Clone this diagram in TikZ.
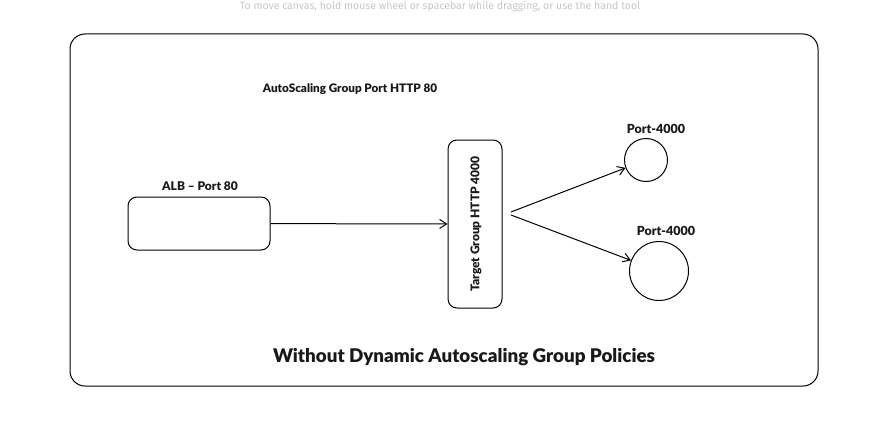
\documentclass[tikz,border=0pt]{standalone}
\usepackage{fontspec}
\setmainfont{Fira Sans}
\newfontfamily\heavy{Lato Black}
\usepackage{tikz}
\usetikzlibrary{arrows.meta}

\begin{document}
\begin{tikzpicture}
            [x=1pt, y=1pt, every node/.style={inner sep=0pt},
             >={Straight Barb[length=7pt, width=9pt]},
             box/.style={rectangle, rounded corners=9pt, line width=1pt, draw=black, fill=white},
             port/.style={circle, line width=1pt, draw=black, fill=white},
             lbl/.style={font=\heavy\fontsize{12}{14}\selectfont, text=black!90}]
                \clip (0, 0) rectangle (874, -425);
                \fill [white] (0, 0) rectangle (874, -425);
                \node (hint) [anchor=north, text=black!22, font=\fontsize{10.5}{12}\selectfont] at (440, -1) {To move canvas, hold mouse wheel or spacebar while dragging, or use the hand tool};
                \node (frame) [box, rounded corners=15pt, minimum width=748pt, minimum height=352pt] at (444, -210) {};
                \node (asg) [lbl, font=\heavy\fontsize{11.7}{14}\selectfont] at (350, -89) {AutoScaling Group Port HTTP 80};
                \node (alb) [box, minimum width=142pt, minimum height=53pt] at (199, -223.5) {};
                \node (alblabel) [lbl] at (200, -186) {ALB – Port 80};
                \node (tg) [box, minimum width=54pt, minimum height=168pt] at (475, -224) {};
                \node (tglabel) [lbl, rotate=90] at (476, -224) {Target Group HTTP 4000};
                \node (p1) [port, minimum size=43pt] at (646, -160) {};
                \node (p1label) [lbl, font=\heavy\fontsize{12.5}{14}\selectfont] at (656, -129) {Port-4000};
                \node (p2) [port, minimum size=59pt] at (659, -271) {};
                \node (p2label) [lbl, font=\heavy\fontsize{12.5}{14}\selectfont] at (666, -231) {Port-4000};
                \node (title) [font=\heavy\fontsize{18.8}{22}\selectfont, text=black!90] at (464, -357) {Without Dynamic Autoscaling Group Policies};
                \coordinate (split1) at (511, -212);
                \coordinate (split2) at (511, -215);
                \draw [line width=1, ->, color=black] (alb) to  (tg);
                \draw [line width=1, ->, color=black] (split1) to  (p1);
                \draw [line width=1, ->, color=black] (split2) to  (p2);
            \end{tikzpicture}
\end{document}
